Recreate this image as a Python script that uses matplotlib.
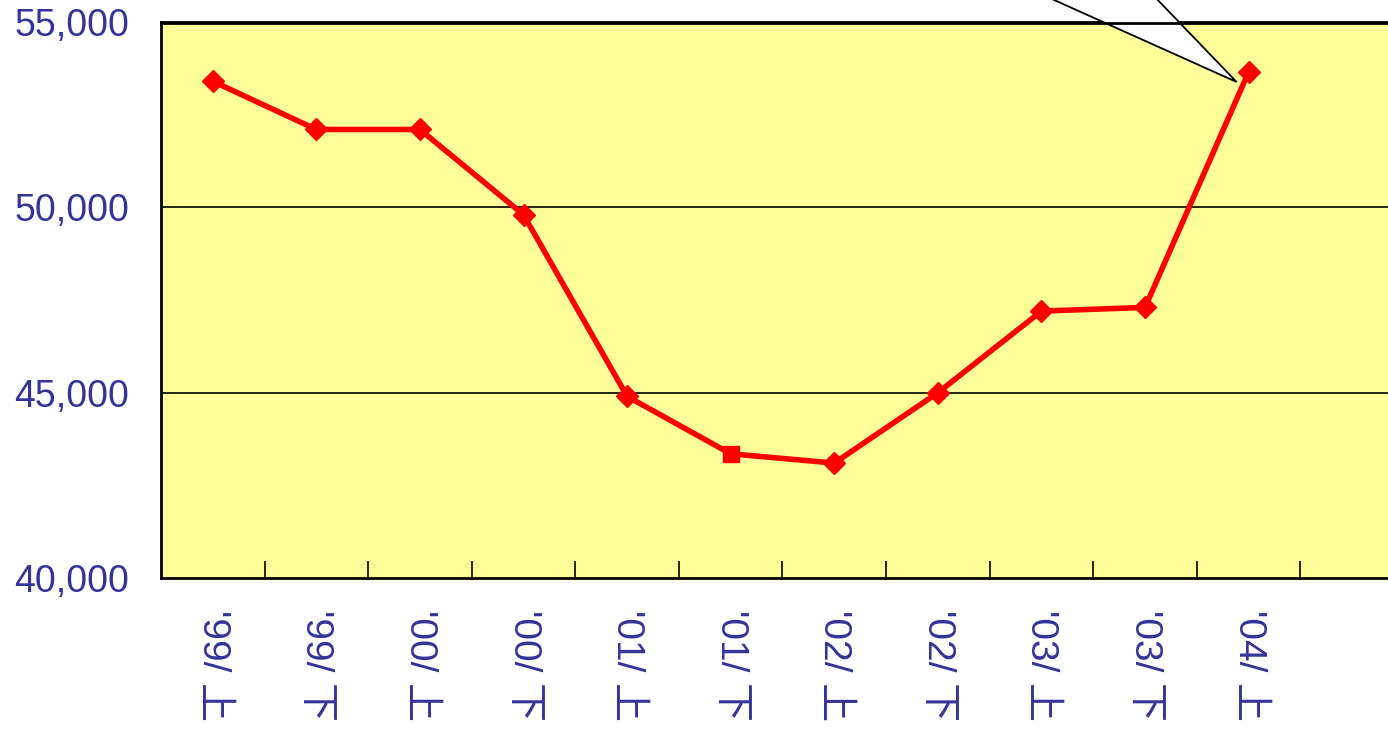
import matplotlib.pyplot as plt
import numpy as np
from matplotlib.patches import Polygon

# half-year periods and values
periods = ["'99/ 上", "'99/ 下", "'00/ 上", "'00/ 下", "'01/ 上", "'01/ 下",
           "'02/ 上", "'02/ 下", "'03/ 上", "'03/ 下", "'04/ 上"]
values = [53400, 52100, 52100, 49800, 44900, 43350,
          43100, 45000, 47200, 47300, 53650]
n_slots = 12  # axis has room for one more half-year on the right
yticks = [40000, 45000, 50000, 55000]

label_color = '#333399'
fonts = ['Liberation Sans', 'Noto Sans CJK JP', 'DejaVu Sans']

fig = plt.figure(figsize=(13.88, 7.29), dpi=100)
W, H = 1388, 729
ax = fig.add_axes([161 / W, (729 - 578) / H, 1243 / W, 556 / H])
ax.set_facecolor('#FFFF99')

x = np.arange(len(values))
ax.plot(x, values, color='red', lw=4, zorder=3)
for i, v in enumerate(values):
    m = 's' if i == 5 else 'D'
    ax.plot(i, v, marker=m, color='red', ms=12 if m == 's' else 11, zorder=4)

ax.set_xlim(-0.5, n_slots - 0.5)
ax.set_ylim(40000, 55000)

for g in [45000, 50000]:
    ax.axhline(g, color='black', lw=1.2, zorder=1)

ax.set_yticks(yticks)
ax.set_yticklabels([f'{t:,}' for t in yticks], color=label_color,
                   fontsize=27, family=fonts)
ax.tick_params(axis='y', length=0, pad=23)

ax.set_xticks(np.arange(n_slots) + 0.5, minor=False)
ax.set_xticklabels([])
ax.tick_params(axis='x', direction='in', length=12, width=1.2, color='black')
ax.set_xticks(x, minor=True)
ax.set_xticklabels(periods, minor=True, rotation=-90, color=label_color,
                   fontsize=28, family=fonts, va='top', ha='center')
ax.tick_params(axis='x', which='minor', length=0, pad=23)

for s in ['left', 'bottom', 'top']:
    ax.spines[s].set_linewidth(2.0)
    ax.spines[s].set_zorder(6)
ax.spines['right'].set_visible(False)

# callout pointer toward the latest value (bubble sits above the figure)
tip = ax.transData.transform((x[-1], values[-1]))
pts = [(1043, 729 + 5), (tip[0] - 12, 729 - 82), (1153, 729 + 5)]
ptr = Polygon(pts, closed=True, facecolor='white', edgecolor='black',
              lw=1.3, transform=None, zorder=5)
ptr.set_clip_on(False)
fig.patches.append(ptr)
# redraw top border over the pointer
fig.add_artist(plt.Line2D([161 / W, 1], [1 - 22.5 / H, 1 - 22.5 / H],
                          color='black', lw=2.0, zorder=7))

fig.savefig('out.png', dpi=100)
